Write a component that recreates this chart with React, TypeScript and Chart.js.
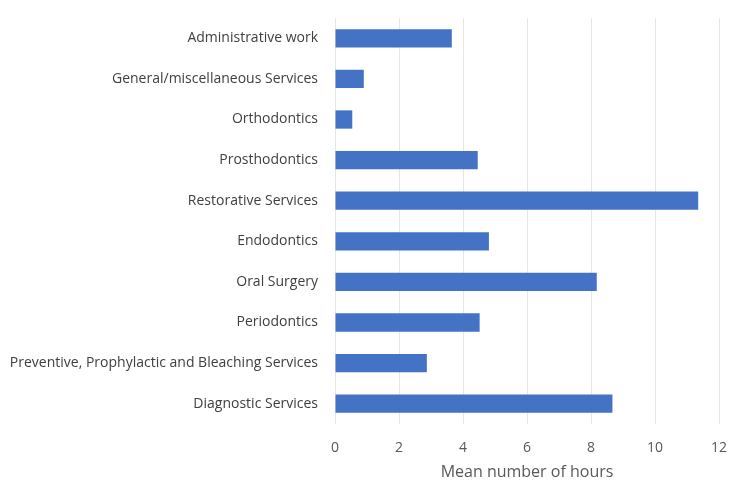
import React, { useEffect, useRef } from "react";
import { Chart, registerables } from "chart.js";

Chart.register(...registerables);

const categories = [
  "Administrative work",
  "General/miscellaneous Services",
  "Orthodontics",
  "Prosthodontics",
  "Restorative Services",
  "Endodontics",
  "Oral Surgery",
  "Periodontics",
  "Preventive, Prophylactic and Bleaching Services",
  "Diagnostic Services",
];

const meanHours = [3.65, 0.9, 0.54, 4.46, 11.35, 4.81, 8.18, 4.52, 2.87, 8.67];

const xTicks = [0, 2, 4, 6, 8, 10, 12];

const FONT = "'Open Sans', Lato, sans-serif";

export default function App() {
  const ref = useRef<HTMLCanvasElement | null>(null);

  useEffect(() => {
    document.body.style.margin = "0";
    const canvas = ref.current;
    if (!canvas) return;
    const chart = new Chart(canvas, {
      type: "bar",
      data: {
        labels: categories,
        datasets: [
          {
            label: "Mean number of hours",
            data: meanHours,
            backgroundColor: "#4472C4",
            borderWidth: 0,
            barPercentage: 0.45,
            categoryPercentage: 1,
          },
        ],
      },
      options: {
        indexAxis: "y",
        animation: false,
        responsive: false,
        maintainAspectRatio: false,
        layout: { padding: { top: 18, right: 10, left: 0, bottom: 0 } },
        plugins: { legend: { display: false }, tooltip: { enabled: false } },
        scales: {
          x: {
            type: "linear",
            min: 0,
            max: 12,
            afterBuildTicks: (scale: any) => {
              scale.ticks = xTicks.map((v) => ({ value: v }));
            },
            grid: { color: "#e6e6e6", drawTicks: false, lineWidth: 1 },
            border: { display: false },
            ticks: {
              padding: 16,
              color: "#595959",
              font: { family: FONT, size: 14 },
            },
            title: {
              display: true,
              text: "Mean number of hours",
              color: "#595959",
              font: { family: FONT, size: 16 },
              padding: { top: 0, bottom: 0 },
            },
            afterFit: (scale: any) => {
              scale.height = 58;
              scale.paddingLeft = 0;
              scale.paddingRight = 0;
            },
          },
          y: {
            grid: { display: false, drawTicks: false },
            border: { display: false },
            ticks: {
              padding: 17,
              color: "#404040",
              font: { family: FONT, size: 14 },
            },
            afterFit: (scale: any) => {
              scale.width = 335;
              scale.paddingTop = 0;
              scale.paddingBottom = 0;
            },
          },
        },
      },
    });
    return () => chart.destroy();
  }, []);

  return <canvas ref={ref} width={729} height={482} style={{ display: "block" }} />;
}
